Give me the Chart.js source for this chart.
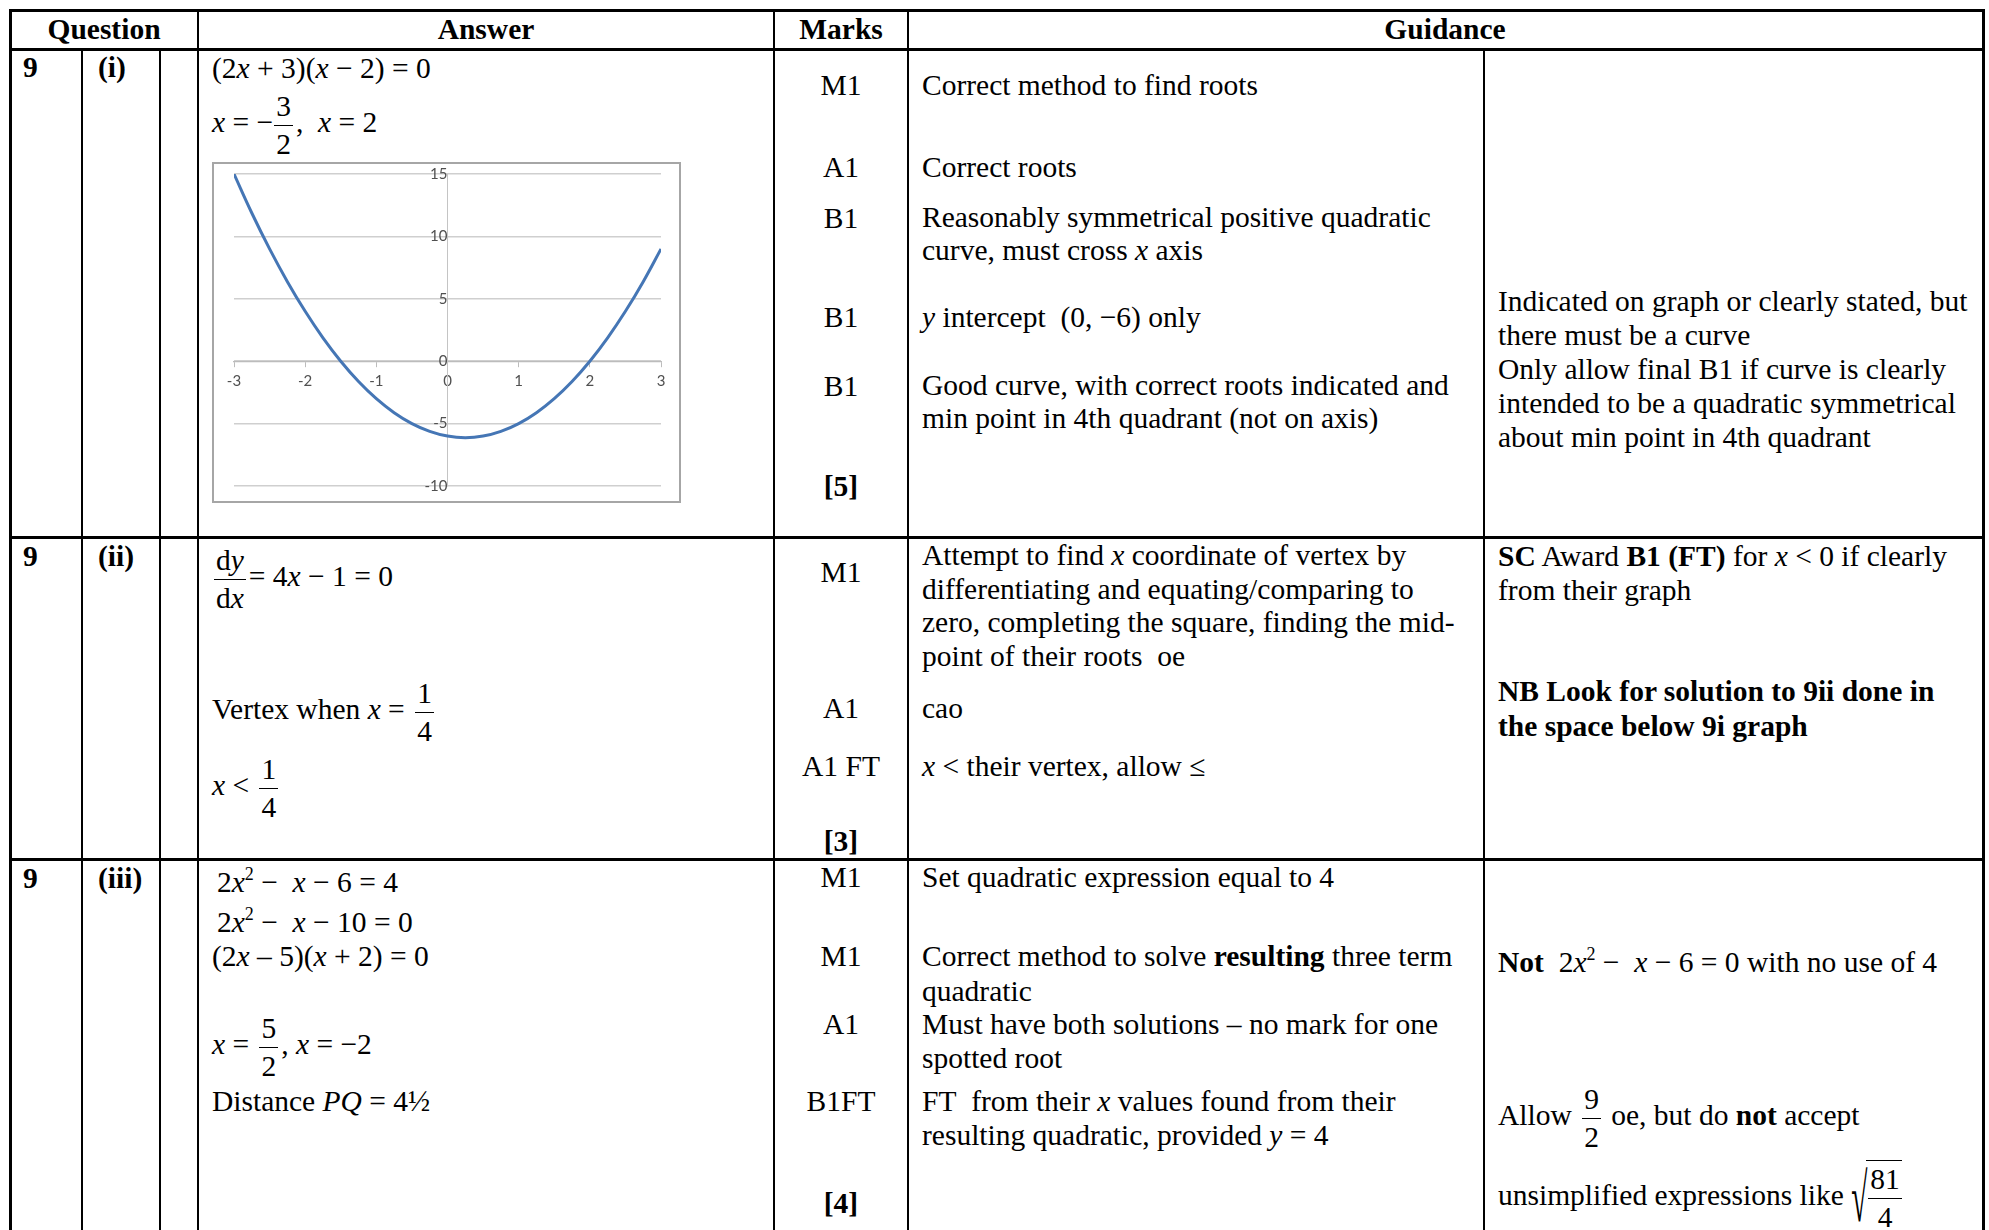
<!DOCTYPE html>
<html><head><meta charset="utf-8">
<script src="https://cdn.jsdelivr.net/npm/chart.js@4.4.1/dist/chart.umd.min.js"></script>
<style>
html,body{margin:0;padding:0;background:#fff;}
body{width:1989px;height:1230px;position:relative;overflow:hidden;font-family:"Liberation Serif","Times New Roman",serif;color:#000;}
.h{position:absolute;background:#000;height:3px;}
.v{position:absolute;background:#000;width:2px;}
.t{position:absolute;white-space:nowrap;font-size:29.5px;line-height:34px;}
.c{transform:translateX(-50%);text-align:center;}
.b{font-weight:bold}
.fr{display:inline-block;vertical-align:middle;text-align:center;margin:0 3px;}
.fr>span{display:block;line-height:37px;padding:0 2px}
.fr>span:first-child{border-bottom:1.5px solid #000;}
sup{font-size:18px;line-height:0;vertical-align:12px}
.sq{display:inline-block;vertical-align:middle;border-top:1.5px solid #000;padding-left:2px}
.rad{display:inline-block;vertical-align:middle;line-height:34px;transform:scaleY(2.3);margin-right:-1px}
#chartBox{position:absolute;left:212px;top:162px;width:469px;height:341px;box-sizing:border-box;border:2px solid #a6a6a6;background:#fff;}
</style>
</head><body>

<!-- table lines -->
<div class="h" style="left:10px;top:9px;width:1975px"></div>
<div class="h" style="left:10px;top:48px;width:1975px"></div>
<div class="h" style="left:10px;top:536px;width:1975px"></div>
<div class="h" style="left:10px;top:858px;width:1975px"></div>
<div class="v" style="left:9px;top:9px;height:1221px;width:3px"></div>
<div class="v" style="left:1982px;top:9px;height:1221px;width:3px"></div>
<div class="v" style="left:197px;top:9px;height:1221px"></div>
<div class="v" style="left:773px;top:9px;height:1221px"></div>
<div class="v" style="left:907px;top:9px;height:1221px"></div>
<div class="v" style="left:81px;top:49px;height:1181px"></div>
<div class="v" style="left:159px;top:49px;height:1181px"></div>
<div class="v" style="left:1483px;top:49px;height:1181px"></div>

<!-- header -->
<div class="t b c" style="left:104px;top:12px">Question</div>
<div class="t b c" style="left:486px;top:12px">Answer</div>
<div class="t b c" style="left:841px;top:12px">Marks</div>
<div class="t b c" style="left:1445px;top:12px">Guidance</div>

<!-- row i -->
<div class="t b" style="left:23px;top:50px">9</div>
<div class="t b" style="left:98px;top:50px">(i)</div>
<div class="t" style="left:212px;top:51px">(2<i>x</i> + 3)(<i>x</i> − 2) = 0</div>
<div class="t" style="left:212px;top:88px"><i>x</i> = −<span class="fr" style="margin-left:1px"><span>3</span><span>2</span></span>,&nbsp; <i>x</i> = 2</div>
<div id="chartBox"><canvas id="c" width="465" height="337"></canvas></div>

<div class="t c" style="left:841px;top:68px">M1</div>
<div class="t c" style="left:841px;top:150px">A1</div>
<div class="t c" style="left:841px;top:201px">B1</div>
<div class="t c" style="left:841px;top:300px">B1</div>
<div class="t c" style="left:841px;top:369px">B1</div>
<div class="t c b" style="left:841px;top:469px">[5]</div>

<div class="t" style="left:922px;top:68px">Correct method to find roots</div>
<div class="t" style="left:922px;top:150px">Correct roots</div>
<div class="t" style="left:922px;top:201px;line-height:33px">Reasonably symmetrical positive quadratic<br>curve, must cross <i>x</i> axis</div>
<div class="t" style="left:922px;top:300px"><i>y</i> intercept&nbsp; (0, −6) only</div>
<div class="t" style="left:922px;top:369px;line-height:33px">Good curve, with correct roots indicated and<br>min point in 4th quadrant (not on axis)</div>

<div class="t" style="left:1498px;top:284px;line-height:34px">Indicated on graph or clearly stated, but<br>there must be a curve<br>Only allow final B1 if curve is clearly<br>intended to be a quadratic symmetrical<br>about min point in 4th quadrant</div>

<!-- row ii -->
<div class="t b" style="left:23px;top:539px">9</div>
<div class="t b" style="left:98px;top:539px">(ii)</div>
<div class="t" style="left:214px;top:542px"><span class="fr" style="margin-left:0"><span>d<i>y</i></span><span>d<i>x</i></span></span>= 4<i>x</i> − 1 = 0</div>
<div class="t" style="left:212px;top:675px">Vertex when <i>x</i> = <span class="fr"><span>1</span><span>4</span></span></div>
<div class="t" style="left:212px;top:751px"><i>x</i> &lt; <span class="fr"><span>1</span><span>4</span></span></div>

<div class="t c" style="left:841px;top:555px">M1</div>
<div class="t c" style="left:841px;top:691px">A1</div>
<div class="t c" style="left:841px;top:749px">A1 FT</div>
<div class="t c b" style="left:841px;top:824px">[3]</div>

<div class="t" style="left:922px;top:539px;line-height:33.7px">Attempt to find <i>x</i> coordinate of vertex by<br>differentiating and equating/comparing to<br>zero, completing the square, finding the mid-<br>point of their roots&nbsp; oe</div>
<div class="t" style="left:922px;top:691px">cao</div>
<div class="t" style="left:922px;top:749px"><i>x</i> &lt; their vertex, allow ≤</div>

<div class="t" style="left:1498px;top:539px;line-height:34px"><b>SC</b> Award <b>B1 (FT)</b> for <i>x</i> &lt; 0 if clearly<br>from their graph</div>
<div class="t b" style="left:1498px;top:674px;line-height:35px">NB Look for solution to 9ii done in<br>the space below 9i graph</div>

<!-- row iii -->
<div class="t b" style="left:23px;top:861px">9</div>
<div class="t b" style="left:98px;top:861px">(iii)</div>
<div class="t" style="left:217px;top:865px">2<i>x</i><sup>2</sup> − &nbsp;<i>x</i> − 6 = 4</div>
<div class="t" style="left:217px;top:905px">2<i>x</i><sup>2</sup> − &nbsp;<i>x</i> − 10 = 0</div>
<div class="t" style="left:212px;top:939px">(2<i>x</i> – 5)(<i>x</i> + 2) = 0</div>
<div class="t" style="left:212px;top:1010px"><i>x</i> = <span class="fr"><span>5</span><span>2</span></span>, <i>x</i> = −2</div>
<div class="t" style="left:212px;top:1084px">Distance <i>PQ</i> = 4½</div>

<div class="t c" style="left:841px;top:860px">M1</div>
<div class="t c" style="left:841px;top:939px">M1</div>
<div class="t c" style="left:841px;top:1007px">A1</div>
<div class="t c" style="left:841px;top:1084px">B1FT</div>
<div class="t c b" style="left:841px;top:1186px">[4]</div>

<div class="t" style="left:922px;top:860px">Set quadratic expression equal to 4</div>
<div class="t" style="left:922px;top:939px;line-height:35px">Correct method to solve <b>resulting</b> three term<br>quadratic</div>
<div class="t" style="left:922px;top:1007px;line-height:34px">Must have both solutions – no mark for one<br>spotted root</div>
<div class="t" style="left:922px;top:1084px;line-height:34px">FT&nbsp; from their <i>x</i> values found from their<br>resulting quadratic, provided <i>y</i> = 4</div>

<div class="t" style="left:1498px;top:945px"><b>Not</b>&nbsp; 2<i>x</i><sup>2</sup> − &nbsp;<i>x</i> − 6 = 0 with no use of 4</div>
<div class="t" style="left:1498px;top:1081px">Allow <span class="fr"><span>9</span><span>2</span></span> oe, but do <b>not</b> accept</div>
<div class="t" style="left:1498px;top:1160px">unsimplified expressions like <span class="rad">√</span><span class="sq"><span class="fr" style="margin:0"><span>81</span><span>4</span></span></span></div>

<script>
// Values (y = 2x² − x − 6 sketch)
const xValues = [-3, -2.75, -2.5, -2.25, -2, -1.75, -1.5, -1.25, -1, -0.75, -0.5, -0.25, 0, 0.25, 0.5, 0.75, 1, 1.25, 1.5, 1.75, 2, 2.25, 2.5, 2.75, 3];
const yValues = [15, 11.875, 9, 6.375, 4, 1.875, 0, -1.625, -3, -4.125, -5, -5.625, -6, -6.125, -6, -5.625, -5, -4.125, -3, -1.625, 0, 1.875, 4, 6.375, 9];
const xTicks = [-3, -2, -1, 0, 1, 2, 3];
const yTicks = [-10, -5, 0, 5, 10, 15];

const points = xValues.map((x, i) => ({x: x, y: yValues[i]}));
const noPad = s => { s.paddingTop = 0; s.paddingBottom = 0; s.paddingLeft = 0; s.paddingRight = 0; };

new Chart(document.getElementById('c'), {
  type: 'line',
  data: {
    datasets: [{
      data: points,
      borderColor: '#4576b5',
      borderWidth: 3,
      pointRadius: 0,
      tension: 0.4,
      fill: false
    }]
  },
  options: {
    responsive: false,
    animation: false,
    layout: {padding: {left: 20, right: 18, top: 10, bottom: 15}},
    plugins: {legend: {display: false}, tooltip: {enabled: false}},
    scales: {
      x: {
        type: 'linear', min: -3, max: 3,
        position: {y: 0},
        afterBuildTicks: s => { s.ticks = xTicks.map(v => ({value: v})); },
        afterFit: noPad,
        ticks: {color: '#505050', font: {family: 'Lato', size: 15}, padding: 6, maxRotation: 0},
        grid: {drawOnChartArea: false, drawTicks: true, tickLength: 5, color: '#bcbcbc'},
        border: {color: '#bcbcbc', width: 1.2}
      },
      y: {
        type: 'linear', min: -10, max: 15,
        position: {x: 0},
        afterBuildTicks: s => { s.ticks = yTicks.map(v => ({value: v})); },
        afterFit: noPad,
        ticks: {color: '#505050', font: {family: 'Lato', size: 15}, padding: 12},
        grid: {drawTicks: false, color: '#cfcfcf', lineWidth: 1.5},
        border: {color: '#c4c4c4', width: 1}
      }
    }
  }
});
</script>
</body></html>
